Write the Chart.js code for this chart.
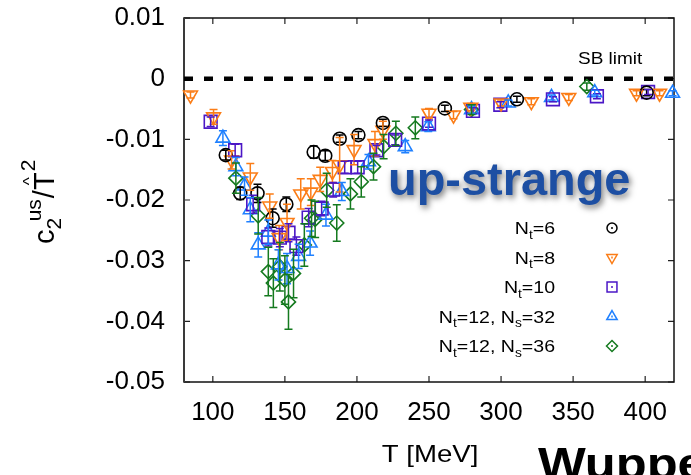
<!DOCTYPE html>
<html>
<head>
<meta charset="utf-8">
<script src="https://cdn.jsdelivr.net/npm/chart.js@4/dist/chart.umd.min.js"></script>
<style>
  html, body { margin: 0; padding: 0; background: #fff; }
  #wrap { width: 691px; height: 475px; }
</style>
</head>
<body>
<div id="wrap"><canvas id="chart" width="691" height="475"></canvas></div>
<script>
const FONT = '"Liberation Sans", Arial, Helvetica, sans-serif';

// tick positions
const X_TICKS = [100, 150, 200, 250, 300, 350, 400];
const Y_TICKS = [0.01, 0, -0.01, -0.02, -0.03, -0.04, -0.05];

// N_t = 6
const NT6_T = [109, 119, 131, 141.5, 151, 170, 178, 188, 201, 218, 261, 311, 401];
const NT6_V = [-0.0126, -0.0189, -0.0189, -0.0230, -0.0207, -0.0121, -0.0127, -0.0099, -0.0093, -0.0073, -0.0049, -0.0034, -0.0023];
const NT6_E = [0.0008, 0.001, 0.0015, 0.0015, 0.0012, 0.001, 0.0008, 0.0006, 0.0006, 0.0006, 0.0005, 0.0005, 0.0005];

// N_t = 8
const NT8_T = [84.5, 100.5, 113, 126, 139.5, 146, 151.5, 161, 168, 174.5, 183, 188, 198, 212.5, 218, 250, 267, 279, 300, 321, 347, 394, 410];
const NT8_V = [-0.0027, -0.0063, -0.0134, -0.0162, -0.0210, -0.0262, -0.0237, -0.0190, -0.0187, -0.0166, -0.0153, -0.0142, -0.0117, -0.0107, -0.0085, -0.0057, -0.0060, -0.0047, -0.0040, -0.0038, -0.0031, -0.0024, -0.0024];
const NT8_E = [0.0005, 0.0012, 0.0015, 0.0022, 0.002, 0.002, 0.003, 0.0025, 0.0022, 0.002, 0.0018, 0.0045, 0.0025, 0.002, 0.0015, 0.0008, 0.0006, 0.0006, 0.0005, 0.0005, 0.0005, 0.0004, 0.0004];

// N_t = 10
const NT10_T = [98.5, 115.5, 128, 138.5, 146.5, 152.5, 158, 166.5, 175.5, 183.5, 191.5, 200.5, 213.5, 226.5, 250, 280.5, 299.5, 336, 366.5, 402];
const NT10_V = [-0.0071, -0.0118, -0.0207, -0.0261, -0.0262, -0.0254, -0.0276, -0.0229, -0.0214, -0.0183, -0.0146, -0.0146, -0.0118, -0.0101, -0.0074, -0.0053, -0.0043, -0.0034, -0.0029, -0.0022];
const NT10_E = [0.0008, 0.001, 0.0015, 0.0015, 0.0015, 0.0015, 0.0015, 0.0015, 0.0012, 0.0012, 0.001, 0.001, 0.0008, 0.0008, 0.0006, 0.0005, 0.0005, 0.0004, 0.0004, 0.0004];

// N_t = 12, N_s = 32
const NS32_T = [107, 116, 122, 126, 131.5, 138.5, 145.5, 151.5, 159.5, 167.5, 178.5, 189.5, 208, 233.5, 249.5, 279.5, 305, 335, 365, 419];
const NS32_V = [-0.0098, -0.0145, -0.0177, -0.0216, -0.0274, -0.0253, -0.0307, -0.0313, -0.0293, -0.0271, -0.0225, -0.0186, -0.0137, -0.0112, -0.0079, -0.0051, -0.0040, -0.0031, -0.0023, -0.0024];
const NS32_E = [0.0012, 0.0015, 0.0015, 0.002, 0.002, 0.002, 0.0025, 0.0025, 0.002, 0.002, 0.0018, 0.0015, 0.0012, 0.001, 0.0008, 0.0006, 0.0005, 0.0004, 0.0004, 0.0004];

// N_t = 12, N_s = 36
const NS36_T = [116, 131.5, 138.5, 142, 146.5, 150, 152.5, 156, 163.5, 168.5, 171, 179, 186, 195.5, 203, 211.5, 218.5, 227, 240.5, 279.5, 359.5];
const NS36_V = [-0.0164, -0.0226, -0.0318, -0.0337, -0.0310, -0.0332, -0.0368, -0.0321, -0.0274, -0.0230, -0.0232, -0.0184, -0.0238, -0.0190, -0.0170, -0.0145, -0.0112, -0.0090, -0.0081, -0.0051, -0.0013];
const NS36_E = [0.0025, 0.003, 0.004, 0.004, 0.004, 0.004, 0.0045, 0.004, 0.0035, 0.003, 0.003, 0.0028, 0.003, 0.0025, 0.0025, 0.0022, 0.002, 0.002, 0.0018, 0.0008, 0.0006];

// free-gas value
const SB_T = [80, 420];
const SB_V = [0, 0];

const COLORS = {
    nt6: '#000000',
    nt8: '#fb7d17',
    nt10: '#4b17c6',
    ns32: '#1f80ff',
    ns36: '#157a1f'
};

function points(ts, vs) {
    return ts.map((t, i) => ({ x: t, y: vs[i] }));
}

function series(label, ts, vs, errs, color, style, radius, rotation = 0) {
    return {
        type: 'scatter',
        label: label,
        data: points(ts, vs),
        errors: errs,
        borderColor: color,
        backgroundColor: 'rgba(0,0,0,0)',
        pointStyle: style,
        pointRadius: radius,
        pointRotation: rotation,
        pointBorderWidth: 1.6,
        clip: false
    };
}

// vertical error bars with caps, placed through the y scale
const errorBars = {
    id: 'errorBars',
    afterDatasetsDraw(chart) {
        const ctx = chart.ctx;
        const y = chart.scales.y;
        chart.data.datasets.forEach((ds, i) => {
            if (!ds.errors) return;
            const meta = chart.getDatasetMeta(i);
            ctx.save();
            ctx.strokeStyle = ds.borderColor;
            ctx.lineWidth = 1.5;
            meta.data.forEach((pt, j) => {
                const v = ds.data[j].y, e = ds.errors[j];
                const top = y.getPixelForValue(v + e);
                const bot = y.getPixelForValue(v - e);
                ctx.beginPath();
                ctx.moveTo(pt.x, top); ctx.lineTo(pt.x, bot);
                ctx.moveTo(pt.x - 4, top); ctx.lineTo(pt.x + 4, top);
                ctx.moveTo(pt.x - 4, bot); ctx.lineTo(pt.x + 4, bot);
                ctx.stroke();
            });
            ctx.restore();
        });
    }
};

// box around the plot with inward tick marks
const frame = {
    id: 'frame',
    beforeDatasetsDraw(chart) {
        const { ctx, chartArea: a, scales } = chart;
        ctx.save();
        ctx.strokeStyle = '#222';
        ctx.lineWidth = 1.2;
        ctx.beginPath();
        X_TICKS.forEach(v => {
            const px = scales.x.getPixelForValue(v);
            ctx.moveTo(px, a.bottom); ctx.lineTo(px, a.bottom - 6);
            ctx.moveTo(px, a.top); ctx.lineTo(px, a.top + 6);
        });
        Y_TICKS.forEach(v => {
            const py = scales.y.getPixelForValue(v);
            ctx.moveTo(a.left, py); ctx.lineTo(a.left + 6, py);
            ctx.moveTo(a.right, py); ctx.lineTo(a.right - 6, py);
        });
        ctx.stroke();
        ctx.lineWidth = 1.5;
        ctx.strokeStyle = '#111';
        ctx.strokeRect(a.left, a.top, a.right - a.left, a.bottom - a.top);
        ctx.lineWidth = 2;
        ctx.strokeStyle = '#3a3a3a';
        ctx.beginPath();
        ctx.moveTo(a.left, a.top); ctx.lineTo(a.left, a.bottom);
        ctx.stroke();
        ctx.restore();
    }
};

// draws text made of [string, 0 = normal | 1 = subscript] pieces
function richText(ctx, parts, right, base, size, sx) {
    const sub = Math.round(size * 0.68);
    let w = 0;
    parts.forEach(([s, k]) => {
        ctx.font = `${k ? sub : size}px ${FONT}`;
        w += ctx.measureText(s).width;
    });
    ctx.save();
    ctx.translate(right - w * sx, base);
    ctx.scale(sx, 1);
    let x = 0;
    parts.forEach(([s, k]) => {
        ctx.font = `${k ? sub : size}px ${FONT}`;
        ctx.fillText(s, x, k ? size * 0.28 : 0);
        x += ctx.measureText(s).width;
    });
    ctx.restore();
}

const LEGEND = [
    { parts: [['N', 0], ['t', 1], ['=6', 0]], color: COLORS.nt6, style: 'circle', r: 5, rot: 0 },
    { parts: [['N', 0], ['t', 1], ['=8', 0]], color: COLORS.nt8, style: 'triangle', r: 6, rot: 180 },
    { parts: [['N', 0], ['t', 1], ['=10', 0]], color: COLORS.nt10, style: 'rect', r: 7, rot: 0 },
    { parts: [['N', 0], ['t', 1], ['=12, N', 0], ['s', 1], ['=32', 0]], color: COLORS.ns32, style: 'triangle', r: 6, rot: 0 },
    { parts: [['N', 0], ['t', 1], ['=12, N', 0], ['s', 1], ['=36', 0]], color: COLORS.ns36, style: 'rectRot', r: 5.5, rot: 0 }
];

const annotations = {
    id: 'annotations',
    afterDraw(chart) {
        const ctx = chart.ctx;
        ctx.save();
        ctx.fillStyle = '#000';
        ctx.textBaseline = 'alphabetic';

        // SB limit label
        ctx.save();
        ctx.font = `16.5px ${FONT}`;
        ctx.translate(578, 64);
        ctx.scale(1.15, 1);
        ctx.fillText('SB limit', 0, 0);
        ctx.restore();

        // legend
        LEGEND.forEach((row, i) => {
            const cy = 228 + i * 29.5;
            ctx.fillStyle = '#000';
            richText(ctx, row.parts, 555, cy + 6, 17, 1.15);
            ctx.save();
            ctx.strokeStyle = row.color;
            ctx.fillStyle = 'rgba(0,0,0,0)';
            ctx.lineWidth = 1.5;
            Chart.helpers.drawPoint(ctx, { pointStyle: row.style, radius: row.r, rotation: row.rot, borderWidth: 1.5 }, 612, cy);
            ctx.beginPath();
            ctx.moveTo(612, cy - 1); ctx.lineTo(612, cy + 1);
            ctx.stroke();
            ctx.restore();
        });

        // x axis title
        ctx.fillStyle = '#000';
        ctx.save();
        ctx.font = `24px ${FONT}`;
        ctx.translate(430, 462);
        ctx.scale(1.15, 1);
        ctx.textAlign = 'center';
        ctx.fillText('T [MeV]', 0, 0);
        ctx.restore();

        // y axis title: c_2^us / T^2 with hat
        ctx.save();
        ctx.translate(54, 244);
        ctx.rotate(-Math.PI / 2);
        let x = 0;
        ctx.font = `29px ${FONT}`;
        ctx.fillText('c', x, 0);
        x += ctx.measureText('c').width;
        ctx.font = `21px ${FONT}`;
        ctx.fillText('2', x, 7);
        const w2 = ctx.measureText('2').width;
        ctx.fillText('us', x + w2 * 0.7, -13);
        x += w2 * 0.7 + ctx.measureText('us').width + 1;
        ctx.font = `29px ${FONT}`;
        ctx.fillText('/', x, 0);
        x += ctx.measureText('/').width;
        const tw = ctx.measureText('T').width;
        ctx.fillText('T', x, 0);
        ctx.font = `17px ${FONT}`;
        ctx.fillText('^', x + tw / 2 - ctx.measureText('^').width / 2, -19);
        ctx.font = `21px ${FONT}`;
        ctx.fillText('2', x + tw + 1, -19);
        ctx.restore();

        // panel tag
        ctx.save();
        ctx.font = `bold 46px ${FONT}`;
        ctx.translate(388, 195);
        ctx.scale(1.02, 1);
        ctx.shadowColor = 'rgba(0,0,0,0.55)';
        ctx.shadowBlur = 6;
        ctx.shadowOffsetX = 2;
        ctx.shadowOffsetY = 3;
        ctx.fillStyle = '#1d4fa3';
        ctx.fillText('up-strange', 0, 0);
        ctx.restore();

        // collaboration name at the bottom edge
        ctx.save();
        ctx.font = `bold 44px ${FONT}`;
        ctx.translate(538, 479);
        ctx.scale(1.15, 1);
        ctx.fillStyle = '#000';
        ctx.fillText('Wuppertal-Budapest', 0, 0);
        ctx.restore();

        ctx.restore();
    }
};

// drop the half-label padding the scales ask for, so the plot box sits where the layout says
function noScalePadding(s) {
    s.paddingTop = 0;
    s.paddingBottom = 0;
    s.paddingLeft = 0;
    s.paddingRight = 0;
}

new Chart(document.getElementById('chart'), {
    data: {
        datasets: [
            series('Nt=6', NT6_T, NT6_V, NT6_E, COLORS.nt6, 'circle', 6.5),
            series('Nt=8', NT8_T, NT8_V, NT8_E, COLORS.nt8, 'triangle', 8, 180),
            series('Nt=10', NT10_T, NT10_V, NT10_E, COLORS.nt10, 'rect', 9),
            series('Nt=12, Ns=32', NS32_T, NS32_V, NS32_E, COLORS.ns32, 'triangle', 8),
            series('Nt=12, Ns=36', NS36_T, NS36_V, NS36_E, COLORS.ns36, 'rectRot', 7),
            {
                type: 'line',
                label: 'SB limit',
                data: points(SB_T, SB_V),
                borderColor: '#000',
                borderWidth: 4.5,
                borderDash: [9, 11],
                pointRadius: 0,
                clip: false
            }
        ]
    },
    options: {
        responsive: false,
        animation: false,
        layout: { padding: { top: 18, right: 17, left: 0, bottom: 0 } },
        plugins: {
            legend: { display: false },
            tooltip: { enabled: false }
        },
        scales: {
            x: {
                type: 'linear',
                min: 80,
                max: 420,
                afterBuildTicks: s => { s.ticks = X_TICKS.map(v => ({ value: v })); },
                afterFit: s => { s.height = 93; noScalePadding(s); },
                grid: { display: false, drawTicks: false },
                border: { display: false },
                ticks: {
                    font: { family: FONT, size: 26 },
                    color: '#000',
                    padding: 15,
                    maxRotation: 0,
                    callback: v => String(v)
                }
            },
            y: {
                type: 'linear',
                min: -0.05,
                max: 0.01,
                afterBuildTicks: s => { s.ticks = Y_TICKS.map(v => ({ value: v })); },
                afterFit: s => { s.width = 184; noScalePadding(s); },
                grid: { display: false, drawTicks: false },
                border: { display: false },
                ticks: {
                    font: { family: FONT, size: 26 },
                    color: '#000',
                    padding: 19,
                    callback: v => (v === 0 ? '0' : v.toFixed(2))
                }
            }
        }
    },
    plugins: [frame, errorBars, annotations]
});
</script>
</body>
</html>
